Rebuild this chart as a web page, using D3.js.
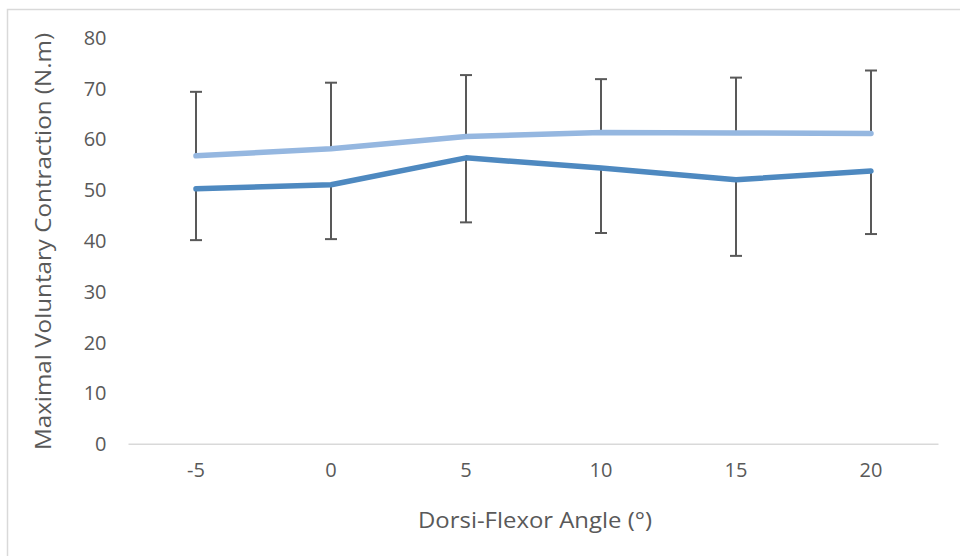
<!DOCTYPE html>
<html><head><meta charset="utf-8">
<script src="https://cdn.jsdelivr.net/npm/d3@7"></script>
<style>body{margin:0;background:#fff}svg{display:block}text{font-family:"Open Sans",sans-serif}</style>
</head><body><svg id="c" width="960" height="556"></svg>
<script>
const categories = ["-5","0","5","10","15","20"];
const seriesLight = [56.8, 58.2, 60.6, 61.4, 61.3, 61.2];
const seriesDark = [50.3, 51.1, 56.4, 54.4, 52.1, 53.8];
const errUpperLight = [69.4, 71.2, 72.7, 71.9, 72.2, 73.6];
const errLowerDark = [40.2, 40.4, 43.7, 41.6, 37.1, 41.4];
const yTicks = [0,10,20,30,40,50,60,70,80];

const svg = d3.select("#c");
svg.append("rect").attr("x",7.5).attr("y",9.5).attr("width",970).attr("height",570)
  .attr("fill","#fff").attr("stroke","#d9d9d9").attr("stroke-width",1.5);

const x = d3.scaleBand().domain(categories).range([128.5,938.5]);
const y = d3.scaleLinear().domain([0,80]).range([444.3,38]);
const cx = c => x(c)+x.bandwidth()/2;

svg.append("line").attr("x1",128.5).attr("x2",938.5).attr("y1",y(0)).attr("y2",y(0))
  .attr("stroke","#d9d9d9").attr("stroke-width",1.5);

const yAxis = d3.axisLeft(y).tickValues(yTicks).tickSize(0).tickPadding(0);
const gy = svg.append("g").attr("transform","translate(106.5,0)").call(yAxis);
gy.select(".domain").remove();
gy.selectAll("text").attr("fill","#595959").style("font-size","20px").style("font-family","Open Sans");

const xAxis = d3.axisBottom(x).tickSize(0).tickPadding(0);
const gx = svg.append("g").attr("transform","translate(0,466)").call(xAxis);
gx.select(".domain").remove();
gx.selectAll("text").attr("fill","#595959").style("font-size","20px").style("font-family","Open Sans").attr("dy","0.55em");

svg.append("text").attr("x",535).attr("y",528).attr("text-anchor","middle")
  .attr("fill","#595959").style("font-size","21px")
  .attr("textLength",234).attr("lengthAdjust","spacingAndGlyphs").text("Dorsi-Flexor Angle (°)");
svg.append("text").attr("transform","translate(51,241.5) rotate(-90)").attr("text-anchor","middle")
  .attr("fill","#595959").style("font-size","21px")
  .attr("textLength",417).attr("lengthAdjust","spacingAndGlyphs").text("Maximal Voluntary Contraction (N.m)");

const eb = svg.append("g").attr("stroke","#595959").attr("stroke-width",2);
function bars(vals, ends){
  categories.forEach((c,i)=>{
    eb.append("line").attr("x1",cx(c)).attr("x2",cx(c)).attr("y1",y(vals[i])).attr("y2",y(ends[i]));
    eb.append("line").attr("x1",cx(c)-6).attr("x2",cx(c)+6).attr("y1",y(ends[i])).attr("y2",y(ends[i]));
  });
}
bars(seriesLight, errUpperLight);
bars(seriesDark, errLowerDark);

const line = d3.line().x((d,i)=>cx(categories[i])).y(d=>y(d));
svg.append("path").datum(seriesLight).attr("d",line).attr("fill","none")
  .attr("stroke","#95b7e0").attr("stroke-width",5.5).attr("stroke-linecap","round").attr("stroke-linejoin","round");
svg.append("path").datum(seriesDark).attr("d",line).attr("fill","none")
  .attr("stroke","#4e89c0").attr("stroke-width",5.5).attr("stroke-linecap","round").attr("stroke-linejoin","round");
</script></body></html>
